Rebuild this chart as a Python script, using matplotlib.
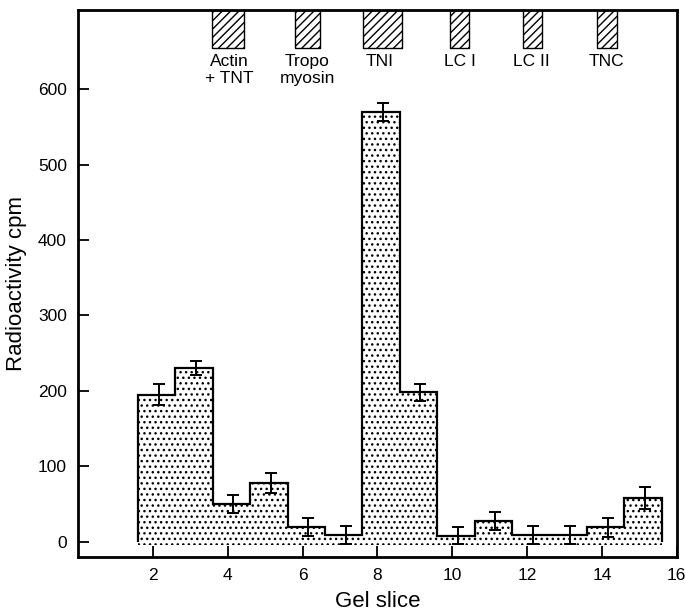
import numpy as np
import matplotlib
matplotlib.use("Agg")
from matplotlib import pyplot as plt

plt.rcParams['font.family'] = ['Liberation Sans', 'DejaVu Sans']
plt.rcParams['hatch.linewidth'] = 1.0
plt.rcParams['hatch.color'] = 'black'

# radioactivity per gel slice
slices = [2, 3, 4, 5, 6, 7, 8, 9, 10, 11, 12, 13, 14, 15]
cpm = [195, 230, 50, 78, 20, 9, 570, 198, 8, 28, 9, 9, 19, 58]
cpm_err = [14, 9, 12, 13, 12, 12, 12, 11, 11, 12, 12, 12, 13, 14]

# protein bands marked along the top of the gel
band_names = ["Actin\n+ TNT", "Tropo\nmyosin", "TNI", "LC I", "LC II", "TNC"]
band_left = [3.59, 5.81, 7.62, 9.93, 11.88, 13.87]
band_right = [4.43, 6.46, 8.66, 10.46, 12.39, 14.40]
label_x = [4.03, 6.13, 8.05, 10.2, 12.12, 14.13]

fig = plt.figure(figsize=(6.85, 6.14), dpi=100)
ax = fig.add_axes([0.114, 0.093, 0.874, 0.891])

centers = np.array(slices) + 0.1
edges = np.append(centers - 0.5, centers[-1] + 0.5)
vals = np.array(cpm)

# stippled fill then the step outline
xs = np.repeat(edges, 2)[1:-1]
ys = np.repeat(vals, 2)
ax.fill_between(xs, -4, ys, facecolor='none', edgecolor='black',
                hatch='...', linewidth=0)
ax.stairs(vals, edges, baseline=0, color='black', linewidth=1.6)

ax.errorbar(centers + 0.05, vals, yerr=cpm_err, fmt='none', ecolor='black',
            elinewidth=1.4, capsize=4, capthick=1.4)

# bands hanging from the top
ytop = 705
for l, r, name, lx in zip(band_left, band_right, band_names, label_x):
    ax.fill_between([l, r], 654, ytop, facecolor='white', edgecolor='black',
                    hatch='////', linewidth=1.0)
    ax.text(lx, 646, name, ha='center', va='top', fontsize=12.5,
            linespacing=1.1)

ax.set_xlim(0, 16)
ax.set_ylim(-20, ytop)
ax.set_xticks(range(2, 17, 2))
ax.set_yticks(range(0, 601, 100))
ax.tick_params(direction='in', length=8, width=1.3, labelsize=12.5, pad=8)
for s in ax.spines.values():
    s.set_linewidth(2)
ax.set_xlabel("Gel slice", fontsize=16, labelpad=6)
ax.set_ylabel("Radioactivity cpm", fontsize=16, labelpad=8)

fig.savefig("out.png", dpi=100)
